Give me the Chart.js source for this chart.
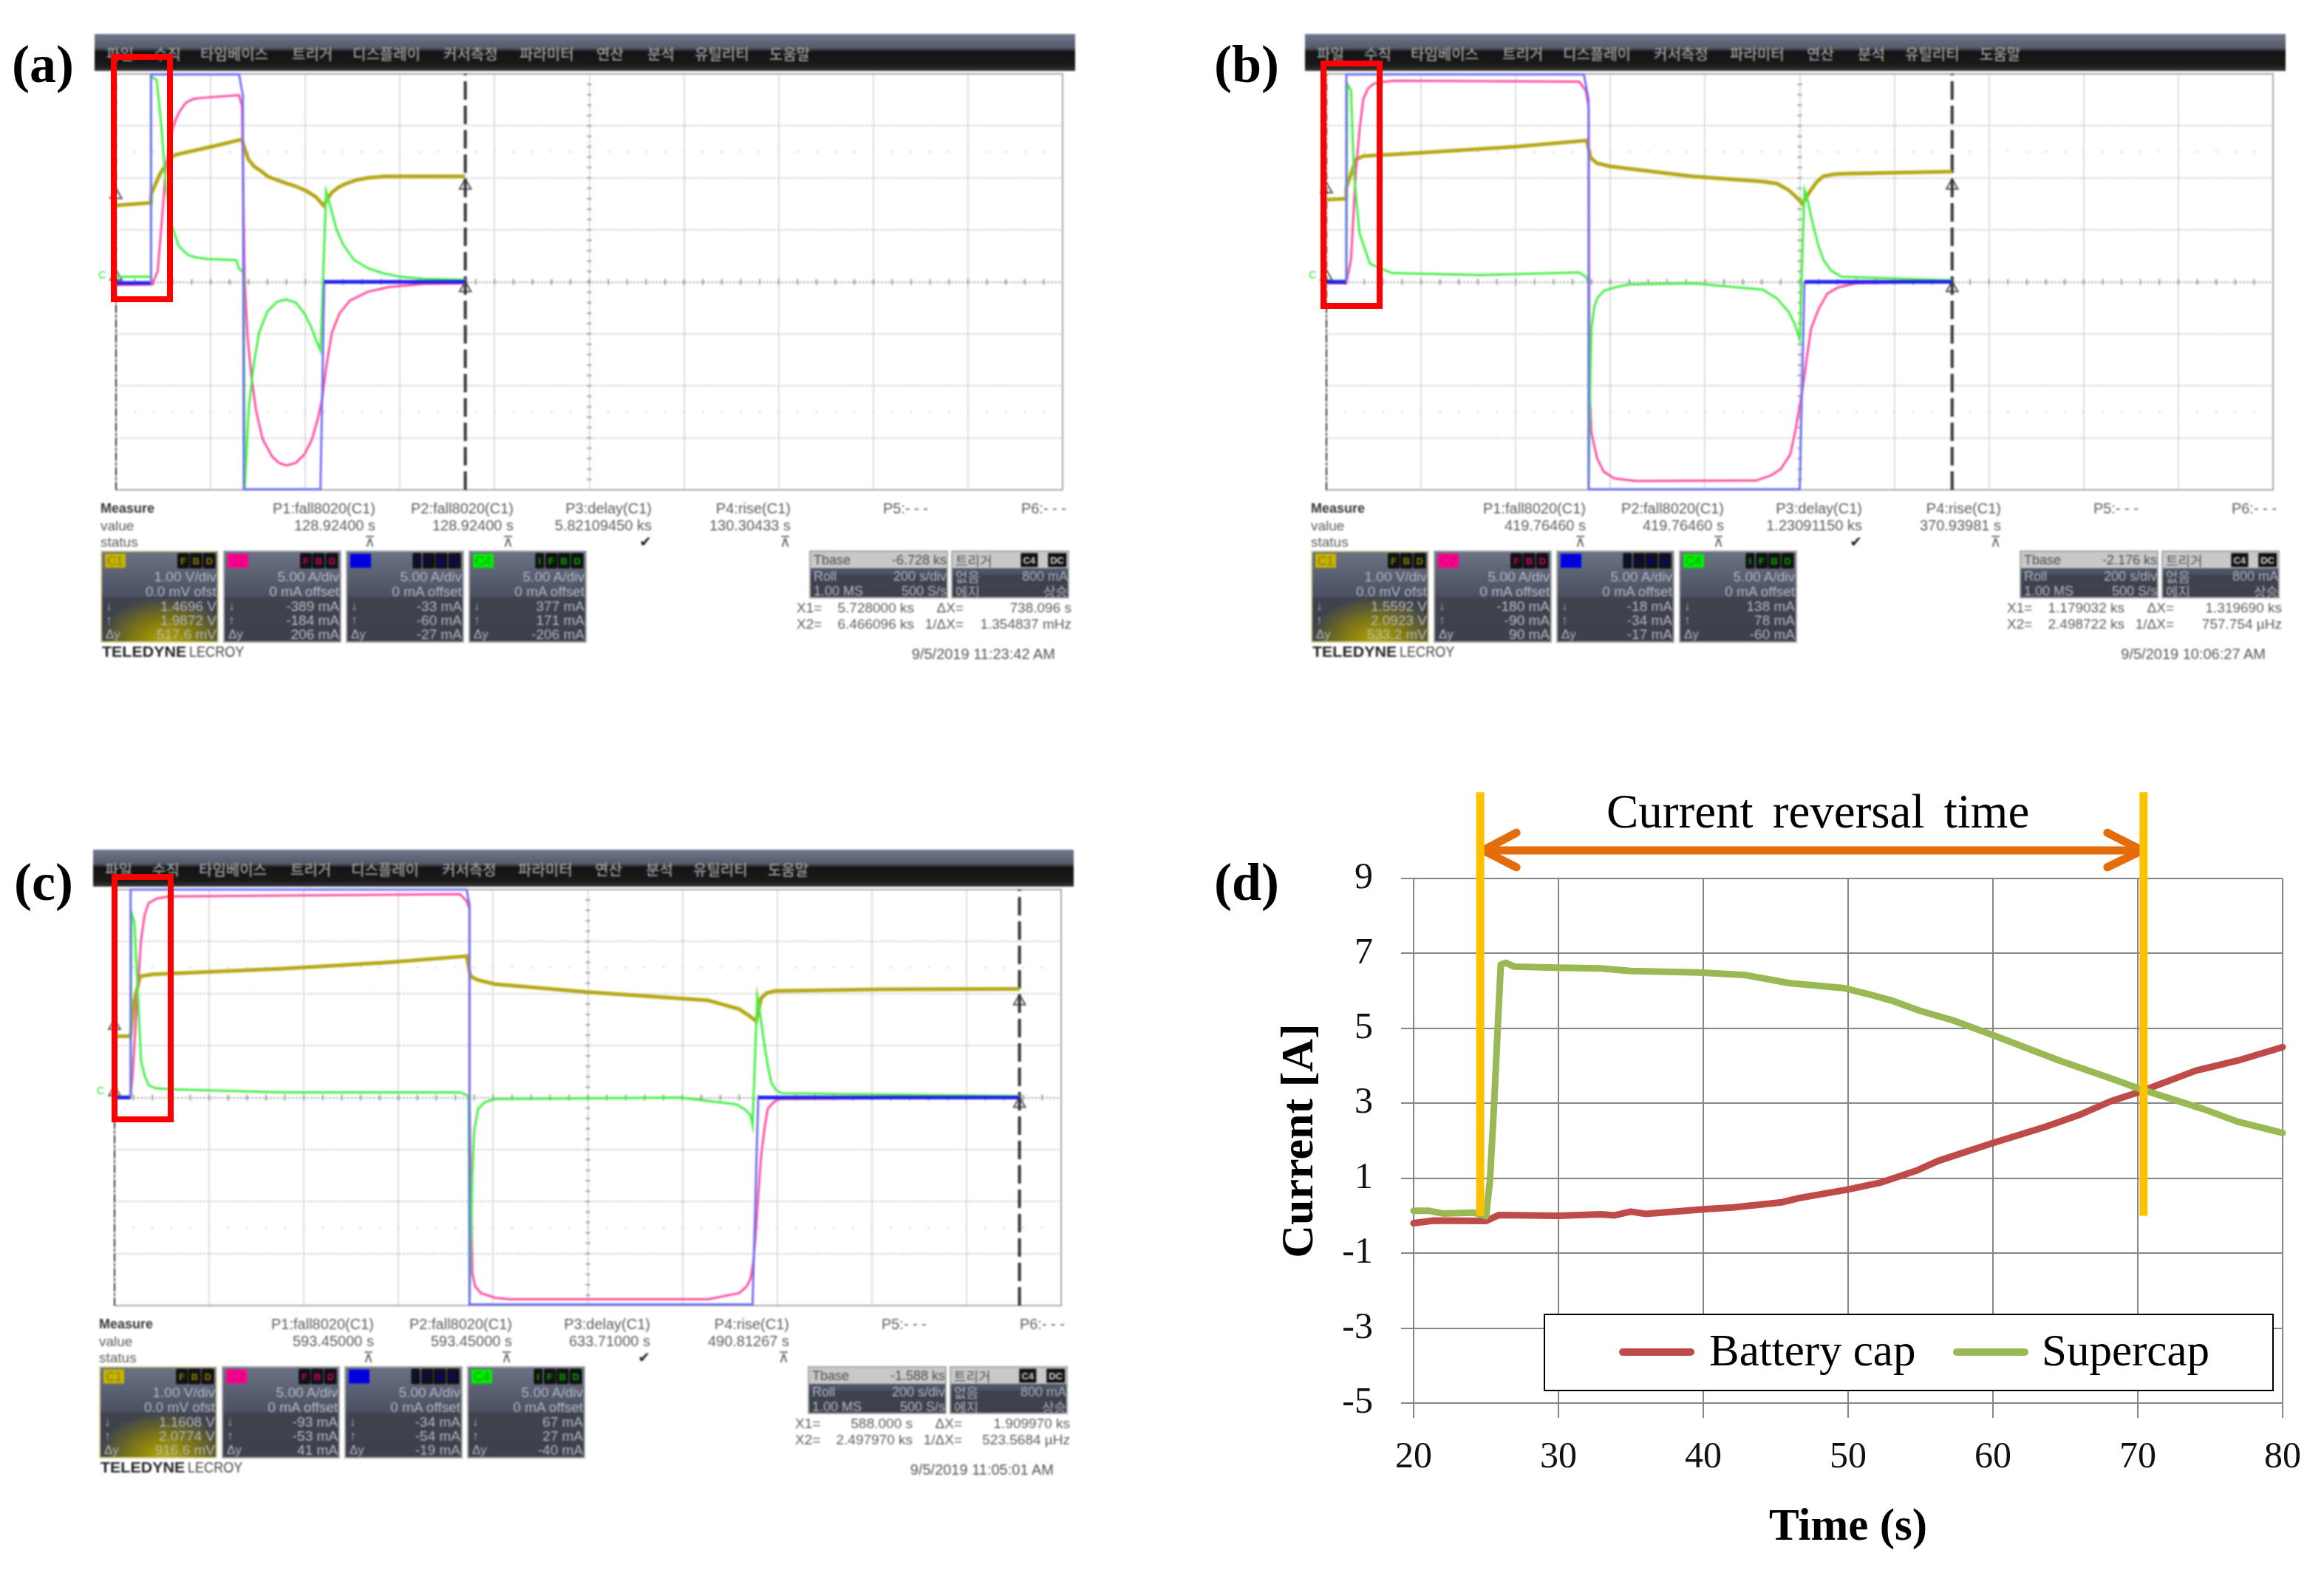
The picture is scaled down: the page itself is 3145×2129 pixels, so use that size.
<!DOCTYPE html>
<html>
<head>
<meta charset="utf-8">
<script src="https://cdn.jsdelivr.net/npm/chart.js@4/dist/chart.umd.min.js"></script>
<style>
  html, body { margin: 0; background: #fff; }
  #page { position: relative; width: 3145px; height: 2129px; overflow: hidden; background: #fff; }
  #page canvas { position: absolute; }
  .txt { position: absolute; white-space: nowrap; line-height: 1; }
  .scope { position: absolute; width: 1281px; height: 563px; font-family: "Liberation Sans", sans-serif; }
  .fuzzy { position: absolute; left: 0; top: 0; width: 1281px; height: 563px; filter: blur(0.9px); }
  .menu { position: absolute; left: -29px; top: -54px; width: 1327px; height: 50px;
    background: linear-gradient(#72798c 0%, #555a6a 38%, #141414 48%, #1a1a1a 85%, #3a3a3a 100%); }
  .chan { position: absolute; top: 645px; width: 160px; height: 125px; box-sizing: border-box; border: 2px solid #aaa;
    background: linear-gradient(#6b7284 0%, #4a5062 50%, #40434e 51%, #3e414c 100%); overflow: hidden; }
  .red { position: absolute; box-sizing: border-box; border: 8px solid #f00; width: 84px; height: 336px; }
  .panel-label { position: absolute; font: bold 72px "Liberation Serif", serif; color: #000; transform: translateY(-50%); }
</style>
</head>
<body>
<div id="page"></div>
<script>
// Oscilloscope traces, [time div, level div]
const aC1 = [[0,1.47],[.37,1.52],[.37,1.68],[.46,2.06],[.57,2.39],[.64,2.45],[1.01,2.6],[1.33,2.74],[1.36,2.56],[1.4,2.35],[1.46,2.22],[1.54,2.12],[1.61,2.02],[1.76,1.92],[1.91,1.83],[2.02,1.74],[2.12,1.62],[2.19,1.47],[2.28,1.72],[2.36,1.83],[2.43,1.89],[2.54,1.96],[2.66,2],[2.84,2.03],[3.03,2.03],[3.69,2.03]];
const aC2 = [[0,-.06],[.38,-.05],[.44,.2],[.48,1.08],[.52,2.03],[.57,2.74],[.6,2.96],[.63,3.12],[.68,3.3],[.74,3.45],[.82,3.52],[.91,3.54],[1.3,3.59],[1.33,3.38],[1.36,0],[1.39,-1.07],[1.43,-1.82],[1.48,-2.48],[1.55,-3.03],[1.65,-3.36],[1.72,-3.48],[1.8,-3.53],[1.9,-3.48],[1.99,-3.32],[2.07,-3.03],[2.13,-2.65],[2.18,-2.23],[2.22,-1.65],[2.28,-.98],[2.36,-.61],[2.47,-.36],[2.66,-.19],[2.88,-.1],[3.25,-.04],[3.69,-.03]];
const aC3 = [[0,-.02],[.37,-.02],[.37,3.99],[1.3,3.99],[1.34,3.59],[1.35,-3.99],[2.16,-3.99],[2.2,0],[3.69,0]];
const aC4 = [[0,.1],[.37,.1],[.37,3.95],[.43,3.88],[.48,2.98],[.53,1.79],[.59,1.08],[.66,.7],[.71,.6],[.77,.51],[.85,.47],[.96,.44],[1.27,.42],[1.3,.25],[1.35,.18],[1.36,-3.99],[1.4,-2.48],[1.45,-1.65],[1.51,-.98],[1.6,-.57],[1.7,-.38],[1.8,-.34],[1.9,-.4],[1.99,-.61],[2.06,-.86],[2.12,-1.15],[2.16,-1.32],[2.22,1.74],[2.28,1.35],[2.33,1],[2.4,.72],[2.51,.43],[2.65,.27],[2.81,.17],[3,.1],[3.25,.06],[3.69,.04]];
const aCursors = [0, 3.69];

const bC1 = [[0,1.58],[.21,1.6],[.21,1.81],[.31,2.35],[.39,2.42],[.88,2.47],[2,2.6],[2.75,2.72],[2.79,2.39],[2.86,2.28],[3,2.22],[3.87,2.03],[4.61,1.93],[4.76,1.89],[4.88,1.77],[4.97,1.62],[5.03,1.5],[5.1,1.72],[5.18,1.92],[5.25,2.03],[5.36,2.07],[5.51,2.08],[6.61,2.12]];
const bC2 = [[0,-.03],[.21,-.03],[.26,.43],[.31,2.1],[.35,2.93],[.39,3.52],[.44,3.72],[.5,3.81],[.61,3.85],[.73,3.87],[2.67,3.85],[2.74,3.68],[2.77,3.35],[2.78,-2.07],[2.8,-2.9],[2.86,-3.4],[2.93,-3.65],[3.04,-3.78],[3.27,-3.83],[4.54,-3.82],[4.69,-3.73],[4.8,-3.6],[4.9,-3.32],[4.95,-2.9],[5.03,-2.07],[5.08,-1.4],[5.12,-.9],[5.2,-.52],[5.29,-.23],[5.4,-.11],[5.59,-.03],[6.61,0]];
const bC3 = [[0,0],[.21,0],[.21,3.99],[2.72,3.99],[2.77,3.5],[2.77,-3.99],[5,-3.99],[5.05,0],[6.61,0]];
const bC4 = [[0,.02],[.21,.02],[.22,3.81],[.26,3.68],[.29,2.1],[.35,.93],[.46,.35],[.69,.17],[1.62,.13],[2.67,.18],[2.74,.1],[2.77,0],[2.77,-3.98],[2.79,-1.65],[2.8,-.9],[2.83,-.48],[2.86,-.32],[2.93,-.17],[3.04,-.11],[3.19,-.05],[3.87,-.03],[4.61,-.15],[4.76,-.32],[4.88,-.57],[4.95,-.82],[5,-1.11],[5.05,1.77],[5.08,1.6],[5.14,1.1],[5.2,.68],[5.25,.43],[5.33,.22],[5.44,.1],[6.61,.03]];
const bCursors = [0, 6.61];

const cC1 = [[0,1.18],[.17,1.18],[.21,1.87],[.27,2.33],[.4,2.37],[1.78,2.48],[2.9,2.6],[3.72,2.72],[3.76,2.33],[3.84,2.26],[4.02,2.18],[5,2.03],[6.27,1.87],[6.6,1.7],[6.7,1.58],[6.78,1.47],[6.83,1.91],[6.89,2.01],[6.98,2.05],[8.14,2.08],[9.56,2.09]];
const cC2 = [[0,0],[.17,.02],[.19,.41],[.23,1.62],[.28,3.03],[.32,3.53],[.36,3.74],[.45,3.83],[.58,3.87],[3.65,3.91],[3.72,3.78],[3.75,3.62],[3.75,0],[3.77,-2.3],[3.78,-3.38],[3.81,-3.63],[3.87,-3.76],[4.02,-3.85],[4.17,-3.88],[6.27,-3.88],[6.6,-3.76],[6.68,-3.63],[6.72,-3.47],[6.75,-3.13],[6.77,-2.72],[6.8,-1.88],[6.83,-1.13],[6.87,-.55],[6.9,-.22],[6.96,-.09],[7.02,-.03],[9.56,0]];
const cC3 = [[0,0],[.17,0],[.17,4],[3.72,4],[3.75,3.7],[3.75,-3.98],[6.74,-3.98],[6.8,0],[9.56,0]];
const cC4 = [[0,.02],[.17,.02],[.18,3.55],[.21,3.37],[.25,1.87],[.27,1.12],[.28,.7],[.32,.41],[.36,.24],[.43,.18],[.58,.16],[1.78,.1],[3.65,.1],[3.74,.03],[3.75,-3.97],[3.78,-1.47],[3.8,-.63],[3.84,-.22],[3.91,-.09],[4.02,-.03],[5.97,0],[6.57,-.13],[6.66,-.23],[6.72,-.34],[6.74,-.53],[6.79,1.95],[6.82,1.62],[6.85,1.2],[6.9,.62],[6.94,.28],[6.99,.14],[7.05,.08],[9.56,.03]];
const cCursors = [0, 9.56];

// Scope readouts
const menuLabels = ['파일','수직','타임베이스','트리거','디스플레이','커서측정','파라미터','연산','분석','유틸리티','도움말'];
const measureHeads = ['P1:fall8020(C1)','P2:fall8020(C1)','P3:delay(C1)','P4:rise(C1)','P5:- - -','P6:- - -'];
const aMeasure = ['128.92400 s','128.92400 s','5.82109450 ks','130.30433 s'];
const bMeasure = ['419.76460 s','419.76460 s','1.23091150 ks','370.93981 s'];
const cMeasure = ['593.45000 s','593.45000 s','633.71000 s','490.81267 s'];
const aChannels = [['1.4696 V','1.9872 V','517.6 mV'],['-389 mA','-184 mA','206 mA'],['-33 mA','-60 mA','-27 mA'],['377 mA','171 mA','-206 mA']];
const bChannels = [['1.5592 V','2.0923 V','533.2 mV'],['-180 mA','-90 mA','90 mA'],['-18 mA','-34 mA','-17 mA'],['138 mA','78 mA','-60 mA']];
const cChannels = [['1.1608 V','2.0774 V','916.6 mV'],['-93 mA','-53 mA','41 mA'],['-34 mA','-54 mA','-19 mA'],['67 mA','27 mA','-40 mA']];
const aCursorText = ['-6.728 ks','5.728000 ks','738.096 s','6.466096 ks','1.354837 mHz','9/5/2019 11:23:42 AM'];
const bCursorText = ['-2.176 ks','1.179032 ks','1.319690 ks','2.498722 ks','757.754 µHz','9/5/2019 10:06:27 AM'];
const cCursorText = ['-1.588 ks','588.000 s','1.909970 ks','2.497970 ks','523.5684 µHz','9/5/2019 11:05:01 AM'];

// Panel (d)
const timeTicks = [20,30,40,50,60,70,80];
const currentTicks = [-5,-3,-1,1,3,5,7,9];
const batteryCap = [[20,-.2],[21.4,-.13],[25,-.14],[25.9,.02],[30,0],[32.95,.04],[33.86,.01],[35,.11],[36,.05],[40,.17],[42.05,.22],[45.45,.36],[46.6,.47],[50,.7],[52.3,.89],[54.7,1.2],[56.2,1.46],[60,1.94],[63.6,2.37],[66.1,2.71],[68.1,3.05],[70.1,3.3],[74,3.87],[76.9,4.14],[80,4.5]];
const supercap = [[20,.13],[21.1,.13],[22,.06],[24.2,.08],[25,-.01],[25.27,.94],[25.57,3.06],[25.8,4.97],[26.02,6.7],[26.36,6.75],[26.93,6.65],[30,6.62],[32.95,6.6],[35,6.53],[39.77,6.49],[42.95,6.42],[45.9,6.21],[49.77,6.07],[51.6,5.89],[52.95,5.75],[54.95,5.47],[57.2,5.22],[60,4.82],[64.6,4.14],[68.6,3.6],[70.1,3.39],[74.5,2.85],[76.9,2.51],[80,2.21]];
const reversalStart = [[24.6,0],[24.6,11.3]];
const reversalEnd = [[70.4,0],[70.4,11.3]];
const arrowShaft = [[25,9.75],[70.2,9.75]];
const arrowLeft = [[27.1,10.22],[24.8,9.75],[27.1,9.3]];
const arrowRight = [[67.9,10.22],[70.3,9.75],[67.9,9.3]];

const page = document.getElementById('page');
const C1_COL = '#b5a716', C2_COL = '#ff4fa3', C3_COL = '#7272f8', C4_COL = '#46f046';
const RED_COL = '#be4b48', GREEN_COL = '#98b954';

function put(parent, text, x, y, css, right) {
  const s = document.createElement('span');
  s.className = 'txt';
  s.textContent = text;
  s.style.cssText = 'left:' + x + 'px;top:' + y + 'px;transform:translate(' + (right ? '-100%' : '0') + ',-50%);' + (css || '');
  parent.appendChild(s);
  return s;
}

function box(parent, cls, css) {
  const d = document.createElement('div');
  d.className = cls;
  d.style.cssText = css || '';
  parent.appendChild(d);
  return d;
}

// tick marks on the centre axes of the scope grid
const scopeTicks = {
  id: 'scopeTicks',
  beforeDatasetsDraw(chart) {
    const { ctx, scales: { x, y } } = chart;
    ctx.save();
    ctx.strokeStyle = '#9a9a9a';
    ctx.lineWidth = 2;
    for (let i = 0; i <= 50; i++) {
      const px = x.getPixelForValue(i / 5);
      ctx.beginPath();
      ctx.moveTo(px, y.getPixelForValue(0) - 4);
      ctx.lineTo(px, y.getPixelForValue(0) + 4);
      ctx.stroke();
      ctx.fillStyle = '#c4c4c4';
      ctx.fillRect(px - 1, y.getPixelForValue(2.5) - 1, 2, 2);
      ctx.fillRect(px - 1, y.getPixelForValue(-2.5) - 1, 2, 2);
    }
    for (let i = -20; i <= 20; i++) {
      const py = y.getPixelForValue(i / 5);
      ctx.beginPath();
      ctx.moveTo(x.getPixelForValue(5) - 3, py);
      ctx.lineTo(x.getPixelForValue(5) + 3, py);
      ctx.stroke();
    }
    ctx.strokeStyle = '#a8a8a8';
    ctx.strokeRect(x.left, y.top, x.right - x.left, y.bottom - y.top);
    ctx.restore();
  }
};

function trace(data, color, width) {
  return { data, borderColor: color, borderWidth: width, pointRadius: 0, showLine: true, tension: 0, fill: false, clip: false };
}

// the blue channel reads darker and heavier while it sits on the zero line
const flatAtZero = ctx => Math.abs(ctx.p0.parsed.y) < .05 && Math.abs(ctx.p1.parsed.y) < .05;

function scopeChart(left, top, traces, cursors) {
  const pad = 24;
  const cv = document.createElement('canvas');
  cv.width = 1281 + pad * 2;
  cv.height = 563 + pad * 2;
  cv.style.left = (left - pad) + 'px';
  cv.style.top = (top - pad) + 'px';
  cv.style.filter = 'blur(0.8px)';
  page.appendChild(cv);
  const start = traces[0][0];
  const cursorLine = (x, w, dash) => Object.assign(trace([[x, -4], [x, 4]], '#333', w), { borderDash: dash });
  const blue = trace(traces[2], C3_COL, 3);
  blue.segment = { borderColor: c => flatAtZero(c) ? '#2222f0' : undefined, borderWidth: c => flatAtZero(c) ? 5 : undefined };
  new Chart(cv.getContext('2d'), {
    type: 'scatter',
    data: {
      datasets: [
        blue,
        trace(traces[3], C4_COL, 3),
        trace(traces[1], C2_COL, 3),
        trace(traces[0], C1_COL, 5),
        cursorLine(cursors[0], 2, [10, 4, 2, 4]),
        cursorLine(cursors[1], 4, [25, 8]),
        { data: [[cursors[0], start[1] + .2], [cursors[0], .1], [cursors[1], 1.85], [cursors[1], -.12]], showLine: false, clip: false,
          pointStyle: 'triangle', pointRadius: 9, backgroundColor: '#fff', borderColor: '#555', borderWidth: 2 },
        { data: [[-.05, -4.09], [10.06, -.17]], showLine: false, clip: false, pointStyle: 'rectRot', pointRadius: 5, backgroundColor: '#35e035', borderWidth: 0 }
      ]
    },
    options: {
      responsive: false,
      animation: false,
      devicePixelRatio: 1,
      layout: { padding: pad },
      plugins: { legend: { display: false }, tooltip: { enabled: false } },
      scales: {
        x: { min: 0, max: 10, ticks: { display: false, stepSize: 1 },
          grid: { color: '#dedede', lineWidth: 2, drawTicks: false }, border: { display: false } },
        y: { min: -4, max: 4, ticks: { display: false, stepSize: 1 },
          grid: { color: c => c.tick.value === 0 ? '#b0b0b0' : '#cfcfcf', lineWidth: 2, drawTicks: false },
          border: { display: false, dash: [3, 2] } }
      }
    },
    plugins: [scopeTicks]
  });
}

function scopeChrome(left, top, measure, channels, cursorText, redX, redY) {
  const root = box(page, 'scope', 'left:' + left + 'px;top:' + top + 'px;');
  const f = box(root, 'fuzzy');
  const menu = box(f, 'menu');
  const menuX = [16,80,143,267,349,472,575,679,748,812,913];
  menuLabels.forEach((t, i) => put(menu, t, menuX[i], 26, 'font:500 20px "Noto Sans CJK KR";color:#9c9c9c;'));

  const grey = 'font-size:20px;color:#5c5c5c;';
  const small = 'font-size:19px;color:#5c5c5c;';
  put(f, 'Measure', -21, 588, 'font-size:18px;font-weight:bold;color:#333;');
  put(f, 'value', -21, 611, small);
  put(f, 'status', -21, 633, small);
  const headX = [351,538,725,913,1099,1286];
  measureHeads.forEach((t, i) => put(f, t, headX[i], 588, grey, true));
  measure.forEach((t, i) => put(f, t, headX[i], 611, grey, true));
  ['\u22BC','\u22BC','\u2714','\u22BC'].forEach((t, i) => put(f, t, headX[i], 633, 'font:20px "DejaVu Sans";color:' + (i === 2 ? '#222' : '#5c5c5c') + ';', true));
  put(f, 'C', -24, 271, 'font-size:15px;color:#35e035;');

  const tags = ['C1','C2','C3','C4'];
  const tagCol = ['#c8b400','#ff0090','#0000f0','#00f000'];
  const tagText = ['#8a7c00','#c00070','#0000a0','#00a000'];
  const badgeSets = ['FBD','FBD','IFBD','IFBD'];
  const chanHead = [['1.00 V/div','0.0 mV ofst'],['5.00 A/div','0 mA offset'],['5.00 A/div','0 mA offset'],['5.00 A/div','0 mA offset']];
  const rowLabel = ['\u2193','\u2191','\u0394y'];
  channels.forEach((vals, c) => {
    const b = box(f, 'chan', 'left:' + (-21 + c * 166) + 'px;');
    if (c === 0) {
      b.style.borderColor = '#d8d49a';
      b.style.background = 'radial-gradient(ellipse 90px 60px at 55% 100%, #b5a800 0%, #7d7716 50%, rgba(64,67,78,0) 100%), linear-gradient(#6b7284 0%, #4a5062 50%, #40434e 51%, #3e414c 100%)';
    }
    put(b, tags[c], 4, 12, 'font-size:17px;color:' + tagText[c] + ';background:' + tagCol[c] + ';padding:1px 3px;');
    [...badgeSets[c]].reverse().forEach((l, i) => put(b, l, 154 - i * 18, 12, 'font:bold 13px "Liberation Sans";color:' + tagText[c] + ';background:#111;padding:3px 4px;border-radius:2px;', true));
    put(b, chanHead[c][0], 155, 33, 'font-size:19px;color:#b4b8c2;', true);
    put(b, chanHead[c][1], 155, 53, 'font-size:19px;color:#b4b8c2;', true);
    vals.forEach((v, i) => {
      put(b, rowLabel[i], 5, 73 + i * 19, 'font-size:17px;color:#b4b8c2;');
      put(b, v, 155, 73 + i * 19, 'font-size:19px;color:#b4b8c2;', true);
    });
  });
  put(f, 'TELEDYNE', -19, 782, 'font:bold 21px "Liberation Sans";color:#222;transform:translateY(-50%) scaleX(1.02);transform-origin:left;');
  put(f, 'LECROY', 99, 782, 'font:21px "Liberation Sans";color:#444;transform:translateY(-50%) scaleX(.86);transform-origin:left;');

  const tb = box(f, 'chan', 'left:938px;width:188px;height:65px;');
  const tg = box(f, 'chan', 'left:1130px;width:160px;height:65px;');
  [tb, tg].forEach(b => box(b, '', 'position:absolute;left:0;top:0;right:0;height:22px;background:#c8c8c8;'));
  const light = 'font-size:18px;color:#aeb2bd;';
  put(tb, 'Tbase', 4, 11, 'font-size:18px;color:#555;');
  put(tb, cursorText[0], 184, 11, 'font-size:18px;color:#555;', true);
  put(tb, 'Roll', 4, 33, light);
  put(tb, '200 s/div', 184, 33, light, true);
  put(tb, '1.00 MS', 4, 53, light);
  put(tb, '500 S/s', 184, 53, light, true);
  put(tg, '트리거', 4, 11, 'font:18px "Noto Sans CJK KR";color:#555;');
  put(tg, 'C4', 115, 11, 'font:bold 13px "Liberation Sans";color:#ccc;background:#111;padding:2px 3px;', true);
  put(tg, 'DC', 154, 11, 'font:bold 13px "Liberation Sans";color:#ccc;background:#111;padding:2px 3px;', true);
  put(tg, '없음', 4, 33, 'font:18px "Noto Sans CJK KR";color:#aeb2bd;');
  put(tg, '800 mA', 156, 33, light, true);
  put(tg, '에지', 4, 53, 'font:18px "Noto Sans CJK KR";color:#aeb2bd;');
  put(tg, '상승', 156, 53, 'font:18px "Noto Sans CJK KR";color:#aeb2bd;', true);

  put(f, 'X1=', 921, 722, small);
  put(f, cursorText[1], 1080, 722, small, true);
  put(f, '\u0394X=', 1147, 722, small, true);
  put(f, cursorText[2], 1293, 722, small, true);
  put(f, 'X2=', 921, 744, small);
  put(f, cursorText[3], 1080, 744, small, true);
  put(f, '1/\u0394X=', 1147, 744, small, true);
  put(f, cursorText[4], 1293, 744, small, true);
  put(f, cursorText[5], 1271, 785, 'font-size:20px;color:#555;', true);

  box(root, 'red', 'left:' + redX + 'px;top:' + redY + 'px;');
}

function scopePanel(left, top, traces, cursors, measure, channels, cursorText, redX, redY) {
  scopeChart(left, top, traces, cursors);
  scopeChrome(left, top, measure, channels, cursorText, redX, redY);
}

scopePanel(157, 100, [aC1, aC2, aC3, aC4], aCursors, aMeasure, aChannels, aCursorText, -7, -27);
scopePanel(1795, 100, [bC1, bC2, bC3, bC4], bCursors, bMeasure, bChannels, bCursorText, -8, -18);
scopePanel(155, 1204, [cC1, cC2, cC3, cC4], cCursors, cMeasure, cChannels, cCursorText, -4, -21);

// Panel (d)
const dc = document.createElement('canvas');
dc.width = 1425; dc.height = 1069;
dc.style.left = '1720px'; dc.style.top = '1060px';
page.appendChild(dc);
const serif = '"Liberation Serif", serif';
const line = (data, color, width) => ({ data, borderColor: color, borderWidth: width, pointRadius: 0, showLine: true, tension: 0, fill: false, clip: false, borderCapStyle: 'round', borderJoinStyle: 'round' });
const flatLine = (data, color, width) => Object.assign(line(data, color, width), { borderCapStyle: 'butt' });
new Chart(dc.getContext('2d'), {
  type: 'scatter',
  data: {
    datasets: [
      flatLine(reversalStart, '#ffc000', 11),
      flatLine(reversalEnd, '#ffc000', 11),
      line(arrowShaft, '#e46c0a', 11),
      line(arrowLeft, '#e46c0a', 11),
      line(arrowRight, '#e46c0a', 11),
      Object.assign(line(supercap, GREEN_COL, 9), { label: 'Supercap' }),
      Object.assign(line(batteryCap, RED_COL, 9), { label: 'Battery cap' })
    ]
  },
  options: {
    responsive: false,
    animation: false,
    devicePixelRatio: 1,
    layout: { padding: { top: 129, right: 56, left: 0, bottom: 0 } },
    plugins: { legend: { display: false }, tooltip: { enabled: false } },
    scales: {
      x: {
        min: 20, max: 80,
        afterBuildTicks: a => { a.ticks = timeTicks.map(v => ({ value: v })); },
        afterFit: s => { s.height = 230; },
        grid: { color: '#868686', lineWidth: 2, tickLength: 20 },
        border: { color: '#868686', width: 2 },
        ticks: { color: '#111', font: { family: serif, size: 50 }, padding: 24, maxRotation: 0 },
        title: { display: true, text: 'Time (s)', color: '#000', font: { family: serif, size: 61, weight: 'bold' }, padding: { top: 0, bottom: 24 } }
      },
      y: {
        min: -5, max: 9,
        afterBuildTicks: a => { a.ticks = currentTicks.map(v => ({ value: v })); },
        afterFit: s => { s.width = 193; },
        grid: { color: '#868686', lineWidth: 2, tickLength: 17 },
        border: { color: '#868686', width: 2 },
        ticks: { color: '#111', font: { family: serif, size: 50 }, padding: 38 },
        title: { display: true, text: 'Current [A]', color: '#000', font: { family: serif, size: 62, weight: 'bold' }, padding: { top: 3, bottom: 0 } }
      }
    }
  }
});

// legend box and the note above the plot
const lg = box(page, '', 'position:absolute;left:2089px;top:1778px;width:988px;height:105px;box-sizing:border-box;border:2px solid #000;background:#fff;');
box(lg, '', 'position:absolute;left:100px;top:45px;width:102px;height:10px;border-radius:5px;background:' + RED_COL + ';');
box(lg, '', 'position:absolute;left:552px;top:45px;width:102px;height:10px;border-radius:5px;background:' + GREEN_COL + ';');
put(lg, 'Battery cap', 222, 48, 'font:61px ' + serif + ';color:#000;');
put(lg, 'Supercap', 672, 48, 'font:61px ' + serif + ';color:#000;');
put(page, 'Current reversal time', 2174, 1098, 'font:65px ' + serif + ';color:#000;word-spacing:10px;');

[['(a)', 16, 87], ['(b)', 1643, 87], ['(c)', 19, 1194], ['(d)', 1643, 1194]].forEach(l => {
  const s = document.createElement('div');
  s.className = 'panel-label';
  s.textContent = l[0];
  s.style.left = l[1] + 'px';
  s.style.top = l[2] + 'px';
  page.appendChild(s);
});
</script>
</body>
</html>
